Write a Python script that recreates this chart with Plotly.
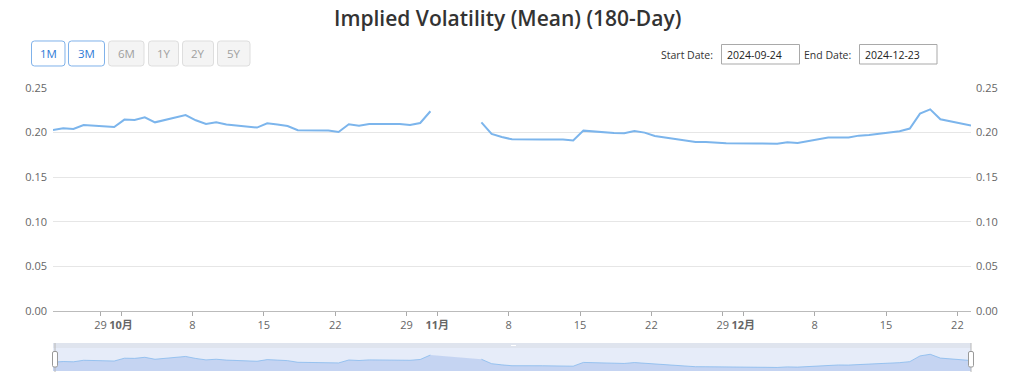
import pandas as pd
import plotly.graph_objects as go

# ---------------- data ----------------
dates = [
    "2024-09-24", "2024-09-25", "2024-09-26", "2024-09-27", "2024-09-30",
    "2024-10-01", "2024-10-02", "2024-10-03", "2024-10-04", "2024-10-07",
    "2024-10-08", "2024-10-09", "2024-10-10", "2024-10-11", "2024-10-14",
    "2024-10-15", "2024-10-16", "2024-10-17", "2024-10-18", "2024-10-21",
    "2024-10-22", "2024-10-23", "2024-10-24", "2024-10-25", "2024-10-28",
    "2024-10-29", "2024-10-30", "2024-10-31", "2024-11-01", "2024-11-04",
    "2024-11-05", "2024-11-06", "2024-11-07", "2024-11-08", "2024-11-11",
    "2024-11-12", "2024-11-13", "2024-11-14", "2024-11-15", "2024-11-18",
    "2024-11-19", "2024-11-20", "2024-11-21", "2024-11-22", "2024-11-25",
    "2024-11-26", "2024-11-27", "2024-11-29", "2024-12-02", "2024-12-03",
    "2024-12-04", "2024-12-05", "2024-12-06", "2024-12-09", "2024-12-10",
    "2024-12-11", "2024-12-12", "2024-12-13", "2024-12-16", "2024-12-17",
    "2024-12-18", "2024-12-19", "2024-12-20", "2024-12-23",
]
iv_mean = [
    0.2029, 0.2048, 0.2040, 0.2085, 0.2063,
    0.2146, 0.2141, 0.2172, 0.2115, 0.2197,
    0.2138, 0.2096, 0.2115, 0.2090, 0.2056,
    0.2104, 0.2090, 0.2074, 0.2026, 0.2024,
    0.2007, 0.2093, 0.2078, 0.2096, 0.2096,
    0.2085, 0.2108, 0.2239, None, None,
    0.2115, 0.1985, 0.1950, 0.1925, 0.1924,
    0.1924, 0.1923, 0.1912, 0.2022, 0.1995,
    0.1992, 0.2018, 0.2000, 0.1962, 0.1908,
    0.1896, 0.1895, 0.1882, 0.1878, 0.1878,
    0.1874, 0.1891, 0.1884, 0.1944, 0.1947,
    0.1944, 0.1966, 0.1973, 0.2015, 0.2045,
    0.2213, 0.2261, 0.2149, 0.2078,
]

tick_dates = ["2024-09-29", "2024-10-01", "2024-10-08", "2024-10-15", "2024-10-22",
              "2024-10-29", "2024-11-01", "2024-11-08", "2024-11-15", "2024-11-22",
              "2024-11-29", "2024-12-01", "2024-12-08", "2024-12-15", "2024-12-22"]
tick_text = ["29", "<b>10月</b>", "8", "15", "22", "29", "<b>11月</b>", "8", "15", "22",
             "29", "<b>12月</b>", "8", "15", "22"]

title_text = "Implied Volatility (Mean) (180-Day)"
range_buttons = ["1M", "3M", "6M", "1Y", "2Y", "5Y"]
active_buttons = ["1M", "3M"]
start_date = "2024-09-24"
end_date = "2024-12-23"

# ---------------- layout helpers ----------------
W, H = 1021, 378
L, R, T, B = 53, 971, 88, 371          # plot-area edges in window pixels
PW, PH = R - L, B - T


def px(x):
    return (x - L) / PW


def py(y):
    return (B - y) / PH


def rrect_path(x0, y0, x1, y1, r=3):
    pts = [
        ("M", x0 + r, y0), ("L", x1 - r, y0), ("Q", x1, y0, x1, y0 + r),
        ("L", x1, y1 - r), ("Q", x1, y1, x1 - r, y1), ("L", x0 + r, y1),
        ("Q", x0, y1, x0, y1 - r), ("L", x0, y0 + r), ("Q", x0, y0, x0 + r, y0),
    ]
    s = ""
    for p in pts:
        cmd = p[0]
        coords = p[1:]
        parts = []
        for i in range(0, len(coords), 2):
            parts.append(f"{px(coords[i]):.5f},{py(coords[i + 1]):.5f}")
        s += cmd + " ".join(parts) + " "
    return s + "Z"


font_family = "Open Sans, Noto Sans CJK SC, sans-serif"

# time shift (UTC+8 display of UTC-midnight data)
x = pd.to_datetime(dates) + pd.Timedelta(hours=8)
x_range = [pd.Timestamp(start_date) + pd.Timedelta(hours=8),
           pd.Timestamp(end_date) + pd.Timedelta(hours=8)]

fig = go.Figure()

fig.add_trace(go.Scatter(
    x=x, y=iv_mean, mode="lines", connectgaps=False,
    line=dict(color="#7cb5ec", width=2), xaxis="x", yaxis="y",
    hoverinfo="x+y", showlegend=False,
))
# mirror trace for the right-hand axis
fig.add_trace(go.Scatter(
    x=x, y=iv_mean, mode="lines", line=dict(color="rgba(0,0,0,0)", width=0),
    xaxis="x", yaxis="y3", hoverinfo="skip", showlegend=False,
))
# navigator series
fig.add_trace(go.Scatter(
    x=x, y=iv_mean, mode="lines", connectgaps=False, fill="tozeroy",
    fillcolor="rgba(110,150,225,0.28)",
    line=dict(color="rgba(124,181,236,0.7)", width=1),
    xaxis="x2", yaxis="y2", hoverinfo="skip", showlegend=False,
))

shapes = []
annotations = []

# navigator background / mask
shapes.append(dict(type="rect", xref="paper", yref="paper", layer="below",
                   x0=px(53), x1=px(971), y0=py(371), y1=py(348),
                   fillcolor="#e6ecf9", line=dict(width=0)))
shapes.append(dict(type="rect", xref="paper", yref="paper", layer="below",
                   x0=px(53), x1=px(971), y0=py(348), y1=py(343),
                   fillcolor="#dfe4ee", line=dict(width=0)))
shapes.append(dict(type="rect", xref="paper", yref="paper",
                   x0=px(511), x1=px(516), y0=py(346), y1=py(345),
                   fillcolor="#ffffff", line=dict(width=0)))
for hx in (55, 971):
    shapes.append(dict(type="line", xref="paper", yref="paper",
                       x0=px(hx), x1=px(hx), y0=py(343), y1=py(372),
                       line=dict(color="#b8b8b8", width=1)))
    shapes.append(dict(type="path", xref="paper", yref="paper",
                       path=rrect_path(hx - 2.5, 351.5, hx + 2.5, 367, 1.5),
                       fillcolor="#ffffff", line=dict(color="#999999", width=1)))

# range buttons
btn_x = [(31.5, 65), (68.5, 104.5), (108.5, 144), (148.5, 178.5), (182.5, 213.5), (217.5, 250)]
for lab, (bx0, bx1) in zip(range_buttons, btn_x):
    active = lab in active_buttons
    shapes.append(dict(type="path", xref="paper", yref="paper",
                       path=rrect_path(bx0, 41, bx1, 66, 3),
                       fillcolor="#ffffff" if active else "#f4f4f4",
                       line=dict(color="#7fb2ea" if active else "#dedede", width=1)))
    annotations.append(dict(xref="paper", yref="paper", x=px((bx0 + bx1) / 2), y=py(53.5),
                            text=lab, showarrow=False, xanchor="center", yanchor="middle",
                            font=dict(family=font_family, size=11.5,
                                      color="#2f7bd6" if active else "#a0a0a0")))

# date inputs
for lab, val, lx, bx0, bx1 in (("Start Date:", start_date, 715, 721.5, 799.5),
                               ("End Date:", end_date, 853, 859.5, 937)):
    annotations.append(dict(xref="paper", yref="paper", x=px(lx), y=py(54.5),
                            text=lab, showarrow=False, xanchor="right", yanchor="middle",
                            font=dict(family=font_family, size=10.5, color="#333333")))
    shapes.append(dict(type="rect", xref="paper", yref="paper",
                       x0=px(bx0), x1=px(bx1), y0=py(44.5), y1=py(64),
                       fillcolor="#ffffff", line=dict(color="#a9a9a9", width=1)))
    annotations.append(dict(xref="paper", yref="paper", x=px(bx0 + 3), y=py(54.5),
                            text=val, showarrow=False, xanchor="left", yanchor="middle",
                            font=dict(family=font_family, size=10.5, color="#222222")))

# title as an annotation (window pixel coordinates)
annotations.append(dict(xref="paper", yref="paper", x=px(507), y=py(17.5),
                        text=title_text, showarrow=False, xanchor="center", yanchor="middle",
                        font=dict(family=font_family, size=21, color="#333333", weight=600)))

fig.update_layout(
    template="none",
    width=W, height=H, autosize=False,
    margin=dict(l=L, r=W - R, t=T, b=H - B, pad=0, autoexpand=False),
    paper_bgcolor="#ffffff", plot_bgcolor="#ffffff",
    font=dict(family=font_family, size=11, color="#666666"),
    showlegend=False,
    hovermode="x",
    xaxis=dict(type="date", range=x_range, domain=[0, 1], anchor="y", automargin=False,
               tickvals=tick_dates, ticktext=tick_text,
               ticks="outside", ticklen=4, tickcolor="#aaaaaa", tickwidth=1,
               showline=True, linecolor="#bbbbbb", linewidth=1,
               showgrid=False, zeroline=False,
               tickfont=dict(size=11, color="#666666")),
    yaxis=dict(domain=[py(311), 1], range=[0, 0.25], dtick=0.05, tick0=0, automargin=False,
               tickformat=".2f", showgrid=True, gridcolor="#e6e6e6", gridwidth=1,
               zeroline=False, showline=False, ticks="", ticklabelstandoff=5,
               tickfont=dict(size=11, color="#666666"), anchor="x"),
    yaxis3=dict(overlaying="y", side="right", range=[0, 0.25], dtick=0.05, tick0=0,
                automargin=False,
                tickformat=".2f", showgrid=False, zeroline=False, showline=False,
                ticks="", ticklabelstandoff=4, anchor="x",
                tickfont=dict(size=11, color="#666666")),
    xaxis2=dict(type="date", range=x_range, domain=[0, 1], anchor="y2", automargin=False,
                visible=False, fixedrange=True),
    yaxis2=dict(domain=[0, py(348)], range=[0.177, 0.2445], visible=False, automargin=False,
                fixedrange=True, anchor="x2"),
    shapes=shapes,
    annotations=annotations,
)

# remove the browser's default 8px body margin so the figure fills the window
fig.write_html("out.html", config={"displayModeBar": False},
               post_script="document.body.style.margin='0px';")
